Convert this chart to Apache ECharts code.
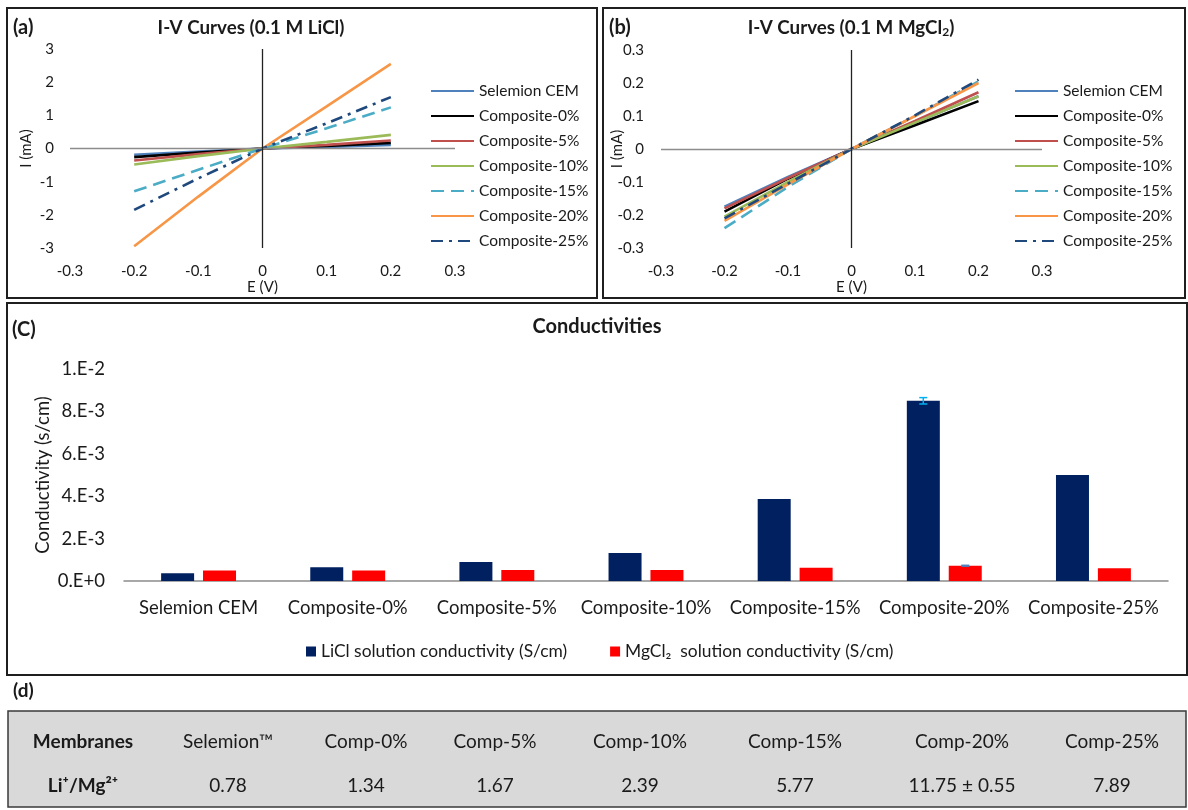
<!DOCTYPE html>
<html>
<head>
<meta charset="utf-8">
<script src="https://cdn.jsdelivr.net/npm/echarts@6/dist/echarts.min.js"></script>
<style>
  html, body { margin: 0; padding: 0; background: #fff; }
  #chart { width: 1188px; height: 810px; }
</style>
</head>
<body>
<div id="chart"></div>
<script>
// ---- Data -------------------------------------------------------------
const membranes = ['Selemion CEM', 'Composite-0%', 'Composite-5%', 'Composite-10%',
                   'Composite-15%', 'Composite-20%', 'Composite-25%'];

// Applied potential (V) for the I-V sweeps
const voltage = [-0.2, -0.1, 0, 0.1, 0.2];

// Current (mA) in 0.1 M LiCl, one row per membrane
const currentLiCl = [
  [-0.19, -0.09, 0, 0.05, 0.11],
  [-0.26, -0.12, 0, 0.08, 0.17],
  [-0.36, -0.17, 0, 0.11, 0.24],
  [-0.48, -0.23, 0, 0.20, 0.41],
  [-1.29, -0.64, 0, 0.61, 1.24],
  [-2.95, -1.45, 0, 1.27, 2.55],
  [-1.85, -0.90, 0, 0.76, 1.55]
];

// Current (mA) in 0.1 M MgCl2, one row per membrane
const currentMgCl2 = [
  [-0.175, -0.085, 0, 0.080, 0.160],
  [-0.190, -0.090, 0, 0.072, 0.145],
  [-0.180, -0.088, 0, 0.085, 0.172],
  [-0.205, -0.100, 0, 0.080, 0.160],
  [-0.240, -0.115, 0, 0.100, 0.205],
  [-0.218, -0.107, 0, 0.100, 0.200],
  [-0.210, -0.105, 0, 0.102, 0.210]
];

// Solution conductivity (S/cm)
const liclConductivity  = [3.6e-4, 6.5e-4, 9.0e-4, 1.32e-3, 3.87e-3, 8.5e-3, 5.0e-3];
const mgcl2Conductivity = [4.9e-4, 4.9e-4, 5.2e-4, 5.2e-4, 6.3e-4, 7.2e-4, 6.0e-4];
const liclError  = [0, 0, 0, 0, 0, 1.5e-4, 0];
const mgcl2Error = [0, 0, 0, 0, 0, 2.0e-5, 0];
const conductivityTicks = ['0.E+0', '2.E-3', '4.E-3', '6.E-3', '8.E-3', '1.E-2'];

// Li+/Mg2+ selectivity table
const tableHeader = ['Membranes', 'Selemion™', 'Comp-0%', 'Comp-5%', 'Comp-10%',
                     'Comp-15%', 'Comp-20%', 'Comp-25%'];
const tableRatios = ['Li⁺/Mg²⁺', '0.78', '1.34', '1.67', '2.39', '5.77', '11.75 ± 0.55', '7.89'];

// ---- Styles -----------------------------------------------------------
const FONT = 'Lato, "Open Sans", sans-serif';
const TXT = '#1a1a1a';
const lineColors = ['#4F81BD', '#000000', '#C0504D', '#9BBB59', '#4BACC6', '#F79646', '#1F497D'];
const lineTypes  = ['solid', 'solid', 'solid', 'solid', [13, 7], 'solid', [12, 6, 3, 6]];

// ---- Helpers ----------------------------------------------------------
function ivSeries(rows, axisIdx) {
  const out = rows.map((row, i) => ({
    name: membranes[i],
    type: 'line',
    xAxisIndex: axisIdx,
    yAxisIndex: axisIdx,
    data: voltage.map((v, k) => [v, row[k]]),
    symbol: 'none',
    z: 3,
    lineStyle: { color: lineColors[i], width: 2.6, type: lineTypes[i] },
    itemStyle: { color: lineColors[i] }
  }));
  // zero lines crossing at the origin
  out.push({
    type: 'line',
    xAxisIndex: axisIdx,
    yAxisIndex: axisIdx,
    data: [],
    z: 1,
    markLine: {
      silent: true,
      symbol: ['none', 'none'],
      label: { show: false },
      animation: false,
      data: [
        { yAxis: 0, lineStyle: { color: '#8c8c8c', width: 1.3, type: 'solid' } },
        { xAxis: 0, lineStyle: { color: '#222', width: 1.3, type: 'solid' } }
      ]
    }
  });
  return out;
}

function errorSeries(values, errors, offset, color, axisIdx) {
  return {
    type: 'custom',
    xAxisIndex: axisIdx,
    yAxisIndex: axisIdx,
    z: 5,
    data: values.map((v, i) => [i, v, errors[i]]),
    renderItem: function (params, api) {
      const err = api.value(2);
      if (!err) return null;
      const idx = api.value(0), val = api.value(1);
      const hi = api.coord([idx, val + err]);
      const lo = api.coord([idx, val - err]);
      const x = hi[0] + offset, cap = 4;
      const st = { stroke: color, lineWidth: 1.5 };
      return {
        type: 'group',
        children: [
          { type: 'line', shape: { x1: x, y1: hi[1], x2: x, y2: lo[1] }, style: st },
          { type: 'line', shape: { x1: x - cap, y1: hi[1], x2: x + cap, y2: hi[1] }, style: st },
          { type: 'line', shape: { x1: x - cap, y1: lo[1], x2: x + cap, y2: lo[1] }, style: st }
        ]
      };
    }
  };
}

function ivLegend(left) {
  return {
    orient: 'vertical',
    left: left,
    top: 83,
    padding: 0,
    itemWidth: 43,
    itemHeight: 14,
    itemGap: 9,
    selectedMode: false,
    itemStyle: { opacity: 0 },
    data: membranes,
    textStyle: { fontFamily: FONT, fontSize: 15.5, lineHeight: 14, color: TXT }
  };
}

const ivAxisLabel = { fontFamily: FONT, fontSize: 15, color: TXT };

// ---- Table graphic ----------------------------------------------------
const colX = [83, 228, 366, 495, 640, 795, 962, 1112];
const tableGraphics = [
  { type: 'rect', shape: { x: 8, y: 711, width: 1178, height: 96 },
    style: { fill: '#D9D9D9', stroke: '#3a3a3a', lineWidth: 1.5 }, z: 0 }
];
tableHeader.forEach((t, i) => tableGraphics.push({
  type: 'text', z: 2,
  style: { text: t, x: colX[i], y: 742, textAlign: 'center', textVerticalAlign: 'middle',
           font: (i === 0 ? 'bold ' : '') + '19px ' + FONT, fill: TXT }
}));
tableRatios.forEach((t, i) => tableGraphics.push({
  type: 'text', z: 2,
  style: { text: t, x: colX[i], y: 786, textAlign: 'center', textVerticalAlign: 'middle',
           font: (i === 0 ? 'bold ' : '') + '19px ' + FONT, fill: TXT }
}));

// ---- Panel frames and titles ------------------------------------------
const frame = (x, y, w, h) => ({ type: 'rect', shape: { x, y, width: w, height: h },
  style: { fill: 'none', stroke: '#1f1f1f', lineWidth: 2 }, z: 10, silent: true });
const label = (text, x, y, size, align) => ({ type: 'text', z: 10,
  style: { text, x, y, textAlign: align || 'left', textVerticalAlign: 'middle',
           font: 'bold ' + size + 'px ' + FONT, fill: TXT } });

const graphics = [
  frame(7, 8, 590, 290),
  frame(603, 8, 582, 290),
  frame(7, 303, 1180, 372),
  label('(a)', 13, 28, 20),
  label('(b)', 609, 28, 20),
  label('(C)', 12, 330, 20),
  label('(d)', 13, 691, 19),
  label('I-V Curves (0.1 M LiCl)', 251, 28, 18.8, 'center'),
  { type: 'text', z: 10,
    style: { text: '{t|I-V Curves (0.1 M MgCl}{s|2}{t|)}', x: 851, y: 28,
             textAlign: 'center', textVerticalAlign: 'middle',
             rich: { t: { font: 'bold 18.8px ' + FONT, fill: TXT },
                     s: { font: 'bold 12px ' + FONT, fill: TXT, padding: [9, 0, 0, 0] } } } },
  label('Conductivities', 597, 327, 20, 'center')
].concat(tableGraphics);

// ---- Chart ------------------------------------------------------------
const chart = echarts.init(document.getElementById('chart'), null, { renderer: 'canvas' });
chart.setOption({
  animation: false,
  backgroundColor: '#fff',
  grid: [
    { left: 70, top: 49, width: 385, height: 199 },
    { left: 661, top: 50, width: 381, height: 198 },
    { left: 124, top: 369, width: 1044, height: 212 }
  ],
  xAxis: [
    { type: 'value', gridIndex: 0, min: -0.3, max: 0.3, interval: 0.1,
      axisLine: { show: false }, axisTick: { show: false }, splitLine: { show: false },
      axisLabel: Object.assign({ margin: 16 }, ivAxisLabel),
      name: 'E (V)', nameLocation: 'middle', nameGap: 32, nameMoveOverlap: false,
      nameTextStyle: { fontFamily: FONT, fontSize: 15, color: TXT } },
    { type: 'value', gridIndex: 1, min: -0.3, max: 0.3, interval: 0.1,
      axisLine: { show: false }, axisTick: { show: false }, splitLine: { show: false },
      axisLabel: Object.assign({ margin: 16 }, ivAxisLabel),
      name: 'E (V)', nameLocation: 'middle', nameGap: 32, nameMoveOverlap: false,
      nameTextStyle: { fontFamily: FONT, fontSize: 15, color: TXT } },
    { type: 'category', gridIndex: 2, data: membranes,
      axisLine: { lineStyle: { color: '#8c8c8c', width: 1.5 } },
      axisTick: { show: false },
      axisLabel: { interval: 0, margin: 18, fontFamily: FONT, fontSize: 18.5, color: TXT } }
  ],
  yAxis: [
    { type: 'value', gridIndex: 0, min: -3, max: 3, interval: 1,
      axisLine: { show: false }, axisTick: { show: false }, splitLine: { show: false },
      axisLabel: Object.assign({ margin: 16 }, ivAxisLabel),
      name: 'I (mA)', nameLocation: 'middle', nameGap: 36, nameRotate: 90, nameMoveOverlap: false,
      nameTextStyle: { fontFamily: FONT, fontSize: 15, color: TXT } },
    { type: 'value', gridIndex: 1, min: -0.3, max: 0.3, interval: 0.1,
      axisLine: { show: false }, axisTick: { show: false }, splitLine: { show: false },
      axisLabel: Object.assign({ margin: 17 }, ivAxisLabel),
      name: 'I (mA)', nameLocation: 'middle', nameGap: 36, nameRotate: 90, nameMoveOverlap: false,
      nameTextStyle: { fontFamily: FONT, fontSize: 15, color: TXT } },
    { type: 'value', gridIndex: 2, min: 0, max: 0.01, interval: 0.002,
      axisLine: { show: false }, axisTick: { show: false }, splitLine: { show: false },
      axisLabel: { margin: 19, fontFamily: FONT, fontSize: 18.5, color: TXT,
                   formatter: (v) => conductivityTicks[Math.round(v / 0.002)] },
      name: 'Conductivity (s/cm)', nameLocation: 'middle', nameGap: 71, nameRotate: 90,
      nameMoveOverlap: false,
      nameTextStyle: { fontFamily: FONT, fontSize: 18.5, color: TXT } }
  ],
  legend: [
    ivLegend(430),
    ivLegend(1014),
    { left: 306, top: 643, padding: 0, itemWidth: 10, itemHeight: 10, itemGap: 43, icon: 'rect',
      selectedMode: false,
      data: ['LiCl solution conductivity (S/cm)', 'MgCl₂  solution conductivity (S/cm)'],
      textStyle: { fontFamily: FONT, fontSize: 17.4, lineHeight: 10, color: TXT } }
  ],
  series: [].concat(
    ivSeries(currentLiCl, 0),
    ivSeries(currentMgCl2, 1),
    [
      { name: 'LiCl solution conductivity (S/cm)', type: 'bar', xAxisIndex: 2, yAxisIndex: 2,
        data: liclConductivity, barWidth: 33, barGap: '27%',
        itemStyle: { color: '#002060' } },
      { name: 'MgCl₂  solution conductivity (S/cm)', type: 'bar', xAxisIndex: 2, yAxisIndex: 2,
        data: mgcl2Conductivity, barWidth: 33, barGap: '27%',
        itemStyle: { color: '#FF0000' } },
      errorSeries(liclConductivity, liclError, -21, '#00B0F0', 2),
      errorSeries(mgcl2Conductivity, mgcl2Error, 21, '#4F81BD', 2)
    ]
  ),
  graphic: { elements: graphics }
});
</script>
</body>
</html>
